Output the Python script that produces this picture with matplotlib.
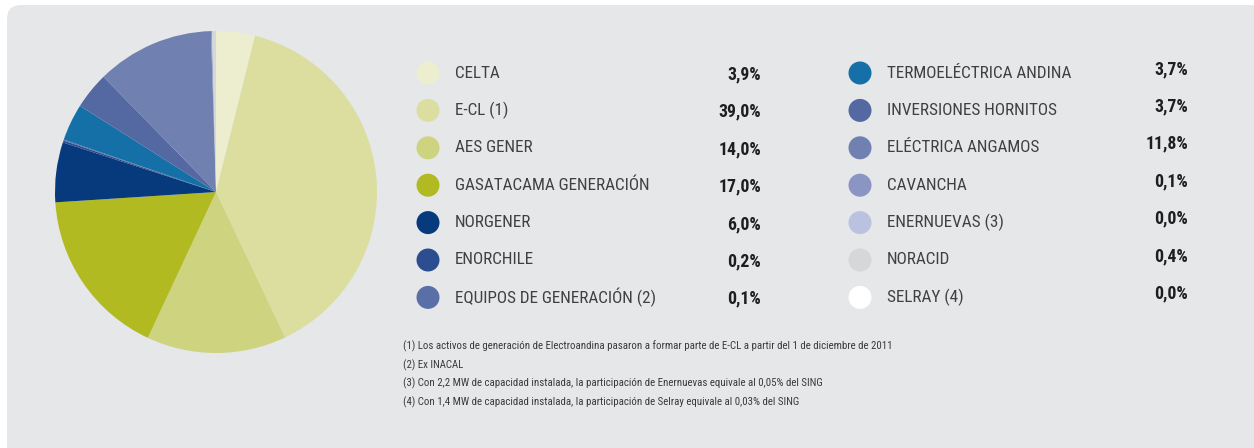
import matplotlib
matplotlib.use("Agg")
import matplotlib.pyplot as plt
from matplotlib.patches import FancyBboxPatch, Circle

# participacion por empresa (%), en orden del grafico
left_names = ["CELTA", "E-CL (1)", "AES GENER", "GASATACAMA GENERACIÓN",
              "NORGENER", "ENORCHILE", "EQUIPOS DE GENERACIÓN (2)"]
left_values = [3.9, 39.0, 14.0, 17.0, 6.0, 0.2, 0.1]
right_names = ["TERMOELÉCTRICA ANDINA", "INVERSIONES HORNITOS", "ELÉCTRICA ANGAMOS",
               "CAVANCHA", "ENERNUEVAS (3)", "NORACID", "SELRAY (4)"]
right_values = [3.7, 3.7, 11.8, 0.1, 0.0, 0.4, 0.0]

left_colors = ["#eceecf", "#dcdea0", "#cdd37f", "#b2ba22", "#063a7d", "#2c4e90", "#5a6ea8"]
right_colors = ["#1570a8", "#5468a2", "#7080b1", "#8a95c3", "#bac2df", "#d6d7d9", "#ffffff"]

notes = [
    "(1) Los activos de generación de Electroandina pasaron a formar parte de E-CL a partir del 1 de diciembre de 2011",
    "(2) Ex INACAL",
    "(3) Con 2,2 MW de capacidad instalada, la participación de Enernuevas equivale al 0,05% del SING",
    "(4) Con 1,4 MW de capacidad instalada, la participación de Selray equivale al 0,03% del SING",
]

FONT = ["Roboto Condensed", "DejaVu Sans"]
W, H = 1254, 448

fig = plt.figure(figsize=(W / 100, H / 100), dpi=100)
fig.patch.set_facecolor("white")

# fondo: panel gris redondeado, coordenadas en pixeles
bg = fig.add_axes([0, 0, 1, 1])
bg.set_xlim(0, W)
bg.set_ylim(H, 0)
bg.axis("off")
bg.add_patch(FancyBboxPatch((7, 5), W + 20, H + 20, boxstyle="round,pad=0,rounding_size=14",
                            facecolor="#e6e7e9", edgecolor="none"))

# pie
cx, cy, r = 216, 192, 161
pie_ax = fig.add_axes([(cx - r) / W, (H - cy - r) / H, 2 * r / W, 2 * r / H])
pie_ax.pie(left_values + right_values, colors=left_colors + right_colors,
           startangle=90, counterclock=False, wedgeprops=dict(linewidth=0))
pie_ax.set_xlim(-1, 1)
pie_ax.set_ylim(-1, 1)
pie_ax.axis("off")


def pct(v):
    return ("%.1f%%" % v).replace(".", ",")


# leyenda en dos columnas
row0, step = 73, 37.4
for i, (n, v, c) in enumerate(zip(left_names, left_values, left_colors)):
    y = row0 + i * step
    bg.add_patch(Circle((428, y), 11.5, facecolor=c, edgecolor="none"))
    bg.text(455, y, n, fontsize=12.3, family=FONT, stretch="condensed", color="#404040",
            va="center", ha="left")
    bg.text(761, y + 1.5, pct(v), fontsize=12.8, family=FONT, stretch="condensed",
            fontweight="bold", color="#1e1e1e", va="center", ha="right")

for i, (n, v, c) in enumerate(zip(right_names, right_values, right_colors)):
    y = row0 + i * step
    bg.add_patch(Circle((860, y), 11.5, facecolor=c, edgecolor="none"))
    bg.text(887, y, n, fontsize=12.3, family=FONT, stretch="condensed", color="#404040",
            va="center", ha="left")
    bg.text(1188, y - 4, pct(v), fontsize=12.8, family=FONT, stretch="condensed",
            fontweight="bold", color="#1e1e1e", va="center", ha="right")

# notas
for i, t in enumerate(notes):
    bg.text(403, 346 + i * 18.8, t, fontsize=7.8, family=FONT, stretch="condensed",
            color="#3a3a3a", va="center", ha="left")

fig.savefig("out.png", dpi=100, facecolor=fig.get_facecolor())
